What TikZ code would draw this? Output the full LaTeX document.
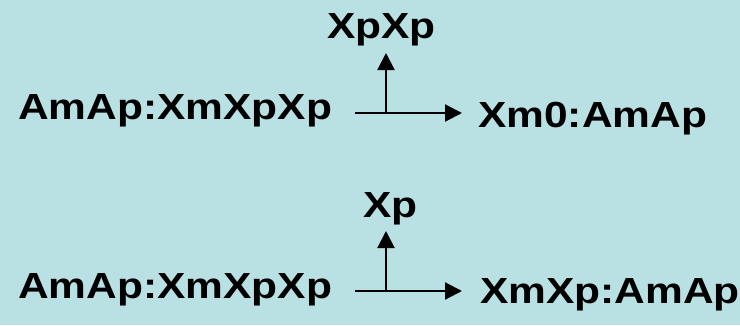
\documentclass[tikz,border=0pt]{standalone}
\usepackage{fontspec}
\usepackage{graphicx}
\setmainfont{Liberation Sans}
\usetikzlibrary{arrows.meta}
\definecolor{bgc}{RGB}{185,224,227}
\newcommand\wideTxt[1]{\scalebox{1.17}[1]{#1}}
\begin{document}
\begin{tikzpicture}[x=1pt,y=-1pt,
  lbl/.style={inner sep=0pt,anchor=base west,font=\fontsize{36.3}{42}\selectfont\bfseries},
  arr/.style={line width=2.2pt,-{Triangle[length=17pt,width=17pt]}}]
\fill[bgc] (0,0) rectangle (740,325);
\useasboundingbox (0,0) rectangle (740,325);
% top reaction
\node[lbl] (r1) at (18,119) {\wideTxt{AmAp:XmXpXp}};
\node[lbl] (p1) at (327,38) {\wideTxt{XpXp}};
\node[lbl] (q1) at (478,127) {\wideTxt{Xm0:AmAp}};
\coordinate (h1s) at (355,113);
\coordinate (h1e) at (462,113);
\coordinate (v1s) at (386,114);
\coordinate (v1e) at (386,53);
\draw[arr] (h1s) -- (h1e);
\draw[arr] (v1s) -- (v1e);
% bottom reaction
\node[lbl] (r2) at (18,298) {\wideTxt{AmAp:XmXpXp}};
\node[lbl] (p2) at (363,217) {\wideTxt{Xp}};
\node[lbl] (q2) at (480,303) {\wideTxt{XmXp:AmAp}};
\coordinate (h2s) at (355,291);
\coordinate (h2e) at (462,291);
\coordinate (v2s) at (386,292);
\coordinate (v2e) at (386,231);
\draw[arr] (h2s) -- (h2e);
\draw[arr] (v2s) -- (v2e);
\end{tikzpicture}
\end{document}
